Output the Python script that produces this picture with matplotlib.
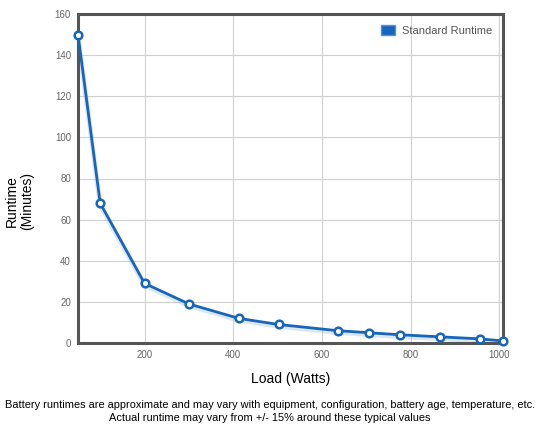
import matplotlib
matplotlib.use("Agg")
import matplotlib.pyplot as plt
from matplotlib.patches import Patch

plt.rcParams['font.family'] = ['Liberation Sans', 'DejaVu Sans']

load_watts = [50, 100, 200, 300, 412, 502, 635, 705, 776, 866, 957, 1008]
runtime_min = [150, 68, 29, 19, 12, 9, 6, 5, 4, 3, 2, 1]
series_name = "Standard Runtime"
x_ticks = [200, 400, 600, 800, 1000]
y_ticks = [0, 20, 40, 60, 80, 100, 120, 140, 160]

line_color = "#1765bd"

fig = plt.figure(figsize=(5.4, 4.32), dpi=100)
ax = fig.add_axes([78/540, 1-343/432, (503-78)/540, (343-14)/432])

# soft shadow
ax.plot(load_watts, [v - 0.9 for v in runtime_min], color="#9bbbe0", lw=3.5, alpha=0.35,
        solid_capstyle="round", zorder=2)
ax.plot(load_watts, runtime_min, color=line_color, lw=2, marker="o", ms=5.5,
        mfc="white", mec=line_color, mew=1.8, zorder=3, clip_on=False)

ax.set_xlim(min(load_watts), max(load_watts))
ax.set_ylim(0, 160)
ax.set_xticks(x_ticks)
ax.set_yticks(y_ticks)
ax.grid(True, color="#d0d0d0", lw=0.8)
ax.set_axisbelow(True)
ax.tick_params(length=0, labelsize=7, labelcolor="#666666", pad=5)
for s in ax.spines.values():
    s.set_color("#555555")
    s.set_linewidth(2.2)

leg = ax.legend(handles=[Patch(facecolor=line_color, edgecolor="#5a8fd0", label=series_name)],
                loc="upper right", frameon=False, fontsize=8, handlelength=1.3,
                handleheight=1.0, borderaxespad=0.6, handletextpad=0.6)
for t in leg.get_texts():
    t.set_color("#555555")

fig.text(12/540, 1-201/432, "Runtime", rotation=90, ha="center", va="center", fontsize=10)
fig.text(27/540, 1-201/432, "(Minutes)", rotation=90, ha="center", va="center", fontsize=10)
fig.text(0.5 * (78 + 503) / 540, 1-379/432, "Load (Watts)", ha="center", va="center", fontsize=10)
fig.text(0.5, 1-405/432, "Battery runtimes are approximate and may vary with equipment, configuration, battery age, temperature, etc.",
         ha="center", va="center", fontsize=7.9)
fig.text(0.5, 1-418/432, "Actual runtime may vary from +/- 15% around these typical values",
         ha="center", va="center", fontsize=7.9)

fig.savefig("out.png", dpi=100)
